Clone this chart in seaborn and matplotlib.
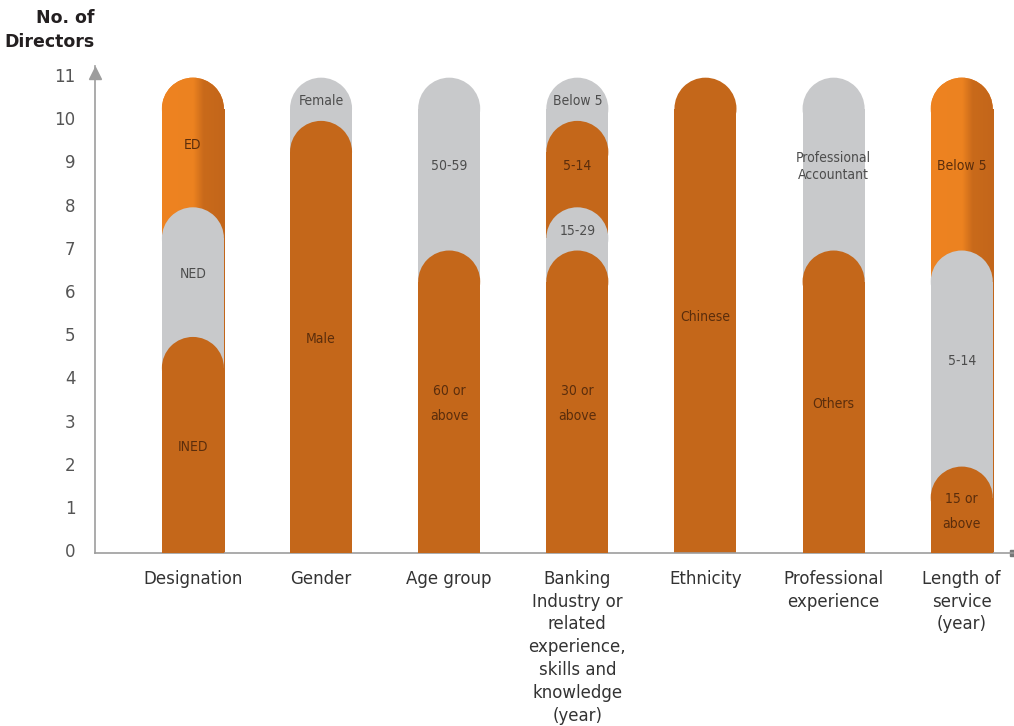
import numpy as np
import pandas as pd
import matplotlib
matplotlib.use('Agg')
import matplotlib.pyplot as plt
import matplotlib.colors as mcolors
from matplotlib import font_manager
import seaborn as sns
from matplotlib.patches import Ellipse
from matplotlib.transforms import ScaledTranslation

sns.set_style('white')
plt.rcParams['font.family'] = ['DejaVu Sans']

# ===================== data =====================
CATEGORIES = ['Designation', 'Gender', 'Age group',
              'Banking\nIndustry or\nrelated\nexperience,\nskills and\nknowledge\n(year)',
              'Ethnicity', 'Professional\nexperience', 'Length of\nservice\n(year)']

# segments listed bottom-up
designation_counts = [5, 3, 3]
designation_labels = ['INED', 'NED', 'ED']
designation_colors = ['dark', 'grey', 'bright']

gender_counts = [10, 1]
gender_labels = ['Male', 'Female']
gender_colors = ['dark', 'grey']

age_counts = [7, 4]
age_labels = ['60 or\nabove', '50-59']
age_colors = ['dark', 'grey']

banking_counts = [7, 1, 2, 1]
banking_labels = ['30 or\nabove', '15-29', '5-14', 'Below 5']
banking_colors = ['dark', 'grey', 'dark', 'grey']

ethnicity_counts = [11]
ethnicity_labels = ['Chinese']
ethnicity_colors = ['dark']

prof_counts = [7, 4]
prof_labels = ['Others', 'Professional\nAccountant']
prof_colors = ['dark', 'grey']

service_counts = [2, 5, 4]
service_labels = ['15 or\nabove', '5-14', 'Below 5']
service_colors = ['dark', 'grey', 'bright']

Y_TICKS = list(range(12))

SEGMENTS = [
    (designation_counts, designation_labels, designation_colors),
    (gender_counts, gender_labels, gender_colors),
    (age_counts, age_labels, age_colors),
    (banking_counts, banking_labels, banking_colors),
    (ethnicity_counts, ethnicity_labels, ethnicity_colors),
    (prof_counts, prof_labels, prof_colors),
    (service_counts, service_labels, service_colors),
]

# ===================== style =====================
COLORS = {'dark': '#C4671A', 'grey': '#C8C9CB', 'bright': '#EE8321'}
TEXT_COLORS = {'dark': '#5a2d0c', 'grey': '#4d4d4d', 'bright': '#5a2d0c'}
AXIS_COLOR = '#9d9d9d'
BAR_W = 0.484
XLIM = (-0.764, 6.40)
YLIM = (0, 11.27)

# narrow font for in-bar labels, if one is installed
installed = {f.name for f in font_manager.fontManager.ttflist}
if 'Liberation Sans Narrow' in installed:
    NARROW = dict(family=['Liberation Sans Narrow', 'DejaVu Sans'], fontstretch='normal', fontsize=10)
else:
    NARROW = dict(family=['DejaVu Sans'], fontstretch='condensed', fontsize=10)

fig = plt.figure(figsize=(10.14, 7.26), dpi=100)
ax = fig.add_axes([95 / 1014, (726 - 553) / 726, (1013 - 95) / 1014, (553 - 66) / 726])
ax.set_xlim(*XLIM)
ax.set_ylim(*YLIM)

# radius of round cap in y data units (semicircle in pixels)
px_per_x = (1013 - 95) / (XLIM[1] - XLIM[0])
px_per_y = (553 - 66) / (YLIM[1] - YLIM[0])
r_y = BAR_W * px_per_x / 2 / px_per_y

# gradient for bright orange bars
grad_pos = [0, 0.5, 0.66, 1.0]
grad_cols = [mcolors.to_rgb(c) for c in ['#EE8321', '#EC8220', '#C96A1B', '#C3661A']]
xs = np.linspace(0, 1, 100)
grad = np.stack([np.interp(xs, grad_pos, [c[i] for c in grad_cols]) for i in range(3)], axis=-1)[None, :, :]

n_layers = max(len(s[0]) for s in SEGMENTS)
for k in range(n_layers):
    rows = []
    for cat, (counts, labels, ckeys) in zip(CATEGORIES, SEGMENTS):
        tops = np.cumsum(counts)[::-1]
        keys = ckeys[::-1]
        if k < len(tops):
            rows.append({'cat': cat, 'height': tops[k] - r_y, 'key': keys[k]})
    layer = pd.DataFrame(rows)
    palette = {r['cat']: COLORS[r['key']] for r in rows}
    n_before = len(ax.patches)
    sns.barplot(data=layer, x='cat', y='height', hue='cat', palette=palette,
                order=CATEGORIES, dodge=False, width=BAR_W, saturation=1,
                errorbar=None, legend=False, linewidth=0, zorder=2 + k, ax=ax)
    for p in ax.patches[n_before:]:
        x0, w, h = p.get_x(), p.get_width(), p.get_height()
        fc = p.get_facecolor()
        cap = Ellipse((x0 + w / 2, h), w, 2 * r_y, facecolor=fc, edgecolor='none', zorder=2 + k)
        ax.add_patch(cap)
        if mcolors.to_hex(fc) == COLORS['bright'].lower():
            for clip in (p, cap):
                im = ax.imshow(grad, extent=[x0, x0 + w, 0, h + r_y], aspect='auto',
                               interpolation='bilinear', zorder=2 + k + 0.1)
                im.set_clip_path(clip)

# segment labels
for i, (counts, labels, ckeys) in enumerate(SEGMENTS):
    tops = np.cumsum(counts)
    for top, cnt, lab, key in zip(tops, counts, labels, ckeys):
        mid = top - cnt / 2 - 0.05
        ls = 2.0 if ' or' in lab else 1.3
        ax.text(i, mid, lab, ha='center', va='center', color=TEXT_COLORS[key],
                linespacing=ls, zorder=20, **NARROW)

ax.set_xlim(*XLIM)
ax.set_ylim(*YLIM)
ax.set_xlabel('')
ax.set_ylabel('')

# axes styling
sns.despine(ax=ax)
for side in ('left', 'bottom'):
    ax.spines[side].set_color(AXIS_COLOR)
    ax.spines[side].set_linewidth(1.2)

ax.set_yticks(Y_TICKS)
ax.set_yticklabels([str(t) for t in Y_TICKS])
ax.tick_params(axis='y', direction='in', length=7, width=1.2, color=AXIS_COLOR,
               labelcolor='#555555', labelsize=12, pad=14)
yt = ax.yaxis.get_major_ticks()
yt[0].tick1line.set_visible(False)
yt[-1].tick1line.set_visible(False)
for lab in ax.get_yticklabels():
    lab.set_transform(lab.get_transform() + ScaledTranslation(0, 2 / 72, fig.dpi_scale_trans))

ax.set_xticks(range(len(CATEGORIES)))
ax.set_xticklabels(CATEGORIES)
ax.tick_params(axis='x', length=0, pad=12, labelsize=12, labelcolor='#333333')
for lab in ax.get_xticklabels():
    lab.set_linespacing(1.35)

# axis arrow heads
arrow = ax.plot(0, 1, marker='^', markersize=8, color=AXIS_COLOR, transform=ax.transAxes, clip_on=False)[0]
arrow.set_transform(ax.transAxes + ScaledTranslation(0, -5 / 72, fig.dpi_scale_trans))
ax.plot(1, 0, marker='s', markersize=4, color='#777777', transform=ax.transAxes, clip_on=False)

fig.text(95 / 1014, 1 - 30 / 726, 'No. of\nDirectors', ha='right', va='center',
         multialignment='right', fontsize=12.5, fontweight='bold', color='#231f20', linespacing=1.4)

fig.savefig('out.png', dpi=100)
